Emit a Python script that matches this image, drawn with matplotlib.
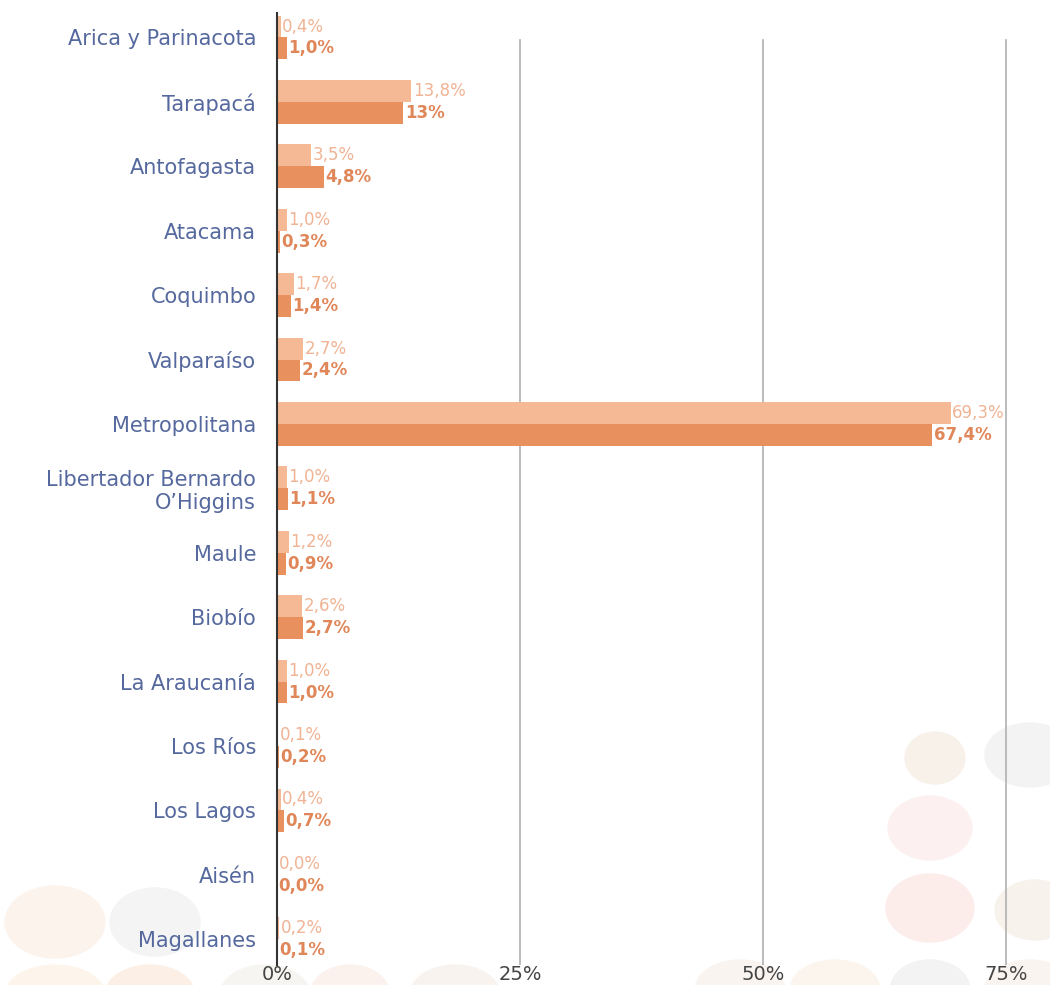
"""Distribucion regional - barras horizontales"""
import matplotlib
matplotlib.use("Agg")
import matplotlib.pyplot as plt
from matplotlib.patches import Ellipse
import numpy as np

regions = ["Arica y Parinacota", "Tarapacá", "Antofagasta", "Atacama",
           "Coquimbo", "Valparaíso", "Metropolitana",
           "Libertador Bernardo\nO\u2019Higgins", "Maule", "Biobío",
           "La Araucanía", "Los Ríos", "Los Lagos", "Aisén", "Magallanes"]
serie_a = [0.4, 13.8, 3.5, 1.0, 1.7, 2.7, 69.3, 1.0, 1.2, 2.6, 1.0, 0.1, 0.4, 0.0, 0.2]
serie_b = [1.0, 13.0, 4.8, 0.3, 1.4, 2.4, 67.4, 1.1, 0.9, 2.7, 1.0, 0.2, 0.7, 0.0, 0.1]
labels_a = ["0,4%", "13,8%", "3,5%", "1,0%", "1,7%", "2,7%", "69,3%", "1,0%",
            "1,2%", "2,6%", "1,0%", "0,1%", "0,4%", "0,0%", "0,2%"]
labels_b = ["1,0%", "13%", "4,8%", "0,3%", "1,4%", "2,4%", "67,4%", "1,1%",
            "0,9%", "2,7%", "1,0%", "0,2%", "0,7%", "0,0%", "0,1%"]
x_ticks = [0, 25, 50, 75]
x_tick_labels = ["0%", "25%", "50%", "75%"]

LIGHT = "#f5b995"
DARK = "#e8915e"
LIGHT_TXT = "#f0b394"
DARK_TXT = "#e0875a"
LABEL = "#56699e"

plt.rcParams['font.family'] = ['DejaVu Sans']

fig = plt.figure(figsize=(10.5, 9.85), dpi=100)

# faint decorative circles in the background
circles = [(935, 758, 30, 26, "#f8f1ea"), (930, 828, 42, 32, "#fcf0f1"),
           (930, 908, 44, 34, "#fcecea"), (1030, 755, 45, 32, "#f3f3f3"),
           (1035, 910, 40, 30, "#f8f2ec"), (55, 922, 50, 36, "#fcf3ed"),
           (155, 922, 45, 34, "#f4f4f4"), (55, 995, 50, 30, "#fdf5ec"),
           (150, 995, 45, 30, "#fcf0e6"), (265, 995, 45, 30, "#f7f5f1"),
           (350, 995, 40, 30, "#fbf2ee"), (455, 995, 45, 30, "#f8f3ee"),
           (740, 990, 45, 30, "#f9f4f0"), (835, 990, 45, 30, "#fcf5ee"),
           (930, 990, 40, 30, "#f3f3f3"), (1030, 990, 45, 30, "#f9f4ef")]
for cx, cy, w, h, c in circles:
    fig.patches.append(Ellipse((cx / 1050, 1 - cy / 985), w * 2 / 1050, h * 2 / 985,
                               transform=fig.transFigure, color=c, zorder=-5))

ax = fig.add_axes([277 / 1050, 20 / 985, 1 - 277 / 1050, 952 / 985])
ax.set_facecolor("none")
ax.set_zorder(2)

y = np.arange(len(regions))
h = 0.34
ax.barh(y - h / 2, serie_a, height=h, color=LIGHT, zorder=3)
ax.barh(y + h / 2, serie_b, height=h, color=DARK, zorder=3)

for i in range(len(regions)):
    ax.text(serie_a[i] + 0.15, y[i] - h / 2, labels_a[i], color=LIGHT_TXT,
            fontsize=12, va="center", ha="left", zorder=4)
    ax.text(serie_b[i] + 0.15, y[i] + h / 2, labels_b[i], color=DARK_TXT,
            fontsize=12, fontweight="bold", va="center", ha="left", zorder=4)

ax.set_xlim(0, 79.5)
ax.set_ylim(14.4, -0.38)
ax.set_yticks(y)
ax.set_yticklabels(regions, color=LABEL, fontsize=15, linespacing=1.15)
ax.set_xticks(x_ticks)
ax.set_xticklabels(x_tick_labels, color="#444444", fontsize=14)
ax.tick_params(axis="y", length=0, pad=15)
ax.tick_params(axis="x", length=0, pad=0)
for s in ["top", "right", "bottom"]:
    ax.spines[s].set_visible(False)
ax.spines["left"].set_color("#333333")
ax.spines["left"].set_linewidth(1.5)
ax.spines["left"].set_zorder(5)

# vertical reference lines (start a bit below the top, as in the original)
for xv in x_ticks[1:]:
    ax.axvline(xv, ymin=0.0, ymax=0.972, color="#b0b0b0", linewidth=1.2, zorder=1)

fig.savefig("out.png", dpi=100)
